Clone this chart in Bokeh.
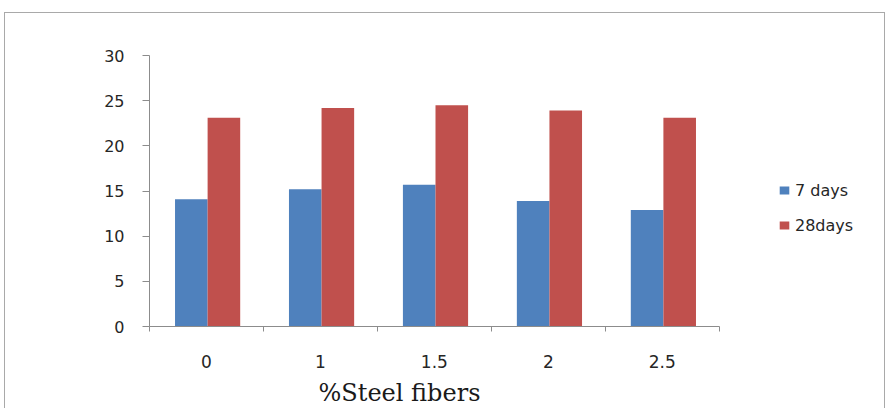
from bokeh.plotting import figure
from bokeh.models import ColumnDataSource, FixedTicker, Legend, LegendItem, Title, Range1d
from bokeh.transform import dodge
from bokeh.embed import file_html
from bokeh.resources import INLINE

# Compressive strength by steel fibre content
fiber_pct = ["0", "1", "1.5", "2", "2.5"]
days_7 = [14.1, 15.2, 15.7, 13.9, 12.9]
days_28 = [23.1, 24.2, 24.5, 23.9, 23.1]
series_names = ["7 days", "28days"]
y_ticks = [0, 5, 10, 15, 20, 25, 30]

BLUE = "#4F81BD"
RED = "#C0504D"
AXIS = "#8c8c8c"
TEXT = "#262626"

n = len(fiber_pct)
x_pos = [i + 0.5 for i in range(n)]
src = ColumnDataSource(dict(x=x_pos, d7=days_7, d28=days_28))

# the frame runs on to the right edge so the legend can sit beside the bars;
# the x axis itself is bounded to the categories
p = figure(width=881, height=400, output_backend="svg", toolbar_location=None,
           x_range=Range1d(0, n * 1.2936), y_range=Range1d(0, 30),
           min_border_left=144, min_border_right=0, min_border_top=42,
           min_border_bottom=84)
p.margin = (12, 0, 0, 4)
p.styles = {"border": "1px solid #a9a9a9"}
p.outline_line_color = None
p.grid.visible = False
p.background_fill_color = "white"
p.border_fill_color = "white"

bw = 0.286
b7 = p.vbar(x=dodge("x", -bw / 2 + 0.01, range=p.x_range), top="d7", width=bw, source=src,
            fill_color=BLUE, line_color=None)
b28 = p.vbar(x=dodge("x", bw / 2 + 0.01, range=p.x_range), top="d28", width=bw, source=src,
             fill_color=RED, line_color=None)

# y axis
ya = p.yaxis[0]
ya.ticker = FixedTicker(ticks=y_ticks)
ya.axis_line_color = AXIS
ya.major_tick_line_color = AXIS
ya.major_tick_out = 7
ya.major_tick_in = 0
ya.minor_tick_line_color = None
ya.major_label_standoff = 18
ya.major_label_text_font = "DejaVu Sans"
ya.major_label_text_font_size = "16px"
ya.major_label_text_color = TEXT

# x axis: labels centred on categories, ticks on the boundaries
xa = p.xaxis[0]
xa.bounds = (0, n)
xa.ticker = FixedTicker(ticks=x_pos, minor_ticks=list(range(n + 1)))
xa.major_label_overrides = {x: lbl for x, lbl in zip(x_pos, fiber_pct)}
xa.axis_line_color = AXIS
xa.major_tick_line_color = None
xa.major_tick_out = 5
xa.minor_tick_line_color = AXIS
xa.minor_tick_out = 5
xa.minor_tick_in = 0
xa.major_label_standoff = 23
xa.major_label_text_font = "DejaVu Sans"
xa.major_label_text_font_size = "17px"
xa.major_label_text_color = TEXT

xtitle = Title(text="%Steel fibers", align="left", offset=169, standoff=13,
               text_font="DejaVu Serif", text_font_size="24px",
               text_font_style="normal", text_color="#1a1a1a")
p.add_layout(xtitle, "below")

legend = Legend(items=[LegendItem(label=series_names[0], renderers=[b7]),
                       LegendItem(label=series_names[1], renderers=[b28])],
                location=(629, 91), orientation="vertical",
                glyph_width=12, glyph_height=10, label_height=20,
                spacing=15, padding=0, margin=0, label_standoff=5,
                label_text_font="DejaVu Sans", label_text_font_size="16px",
                label_text_color=TEXT, border_line_color=None,
                background_fill_alpha=0)
p.add_layout(legend)

open("out.html", "w").write(file_html(p, INLINE))
